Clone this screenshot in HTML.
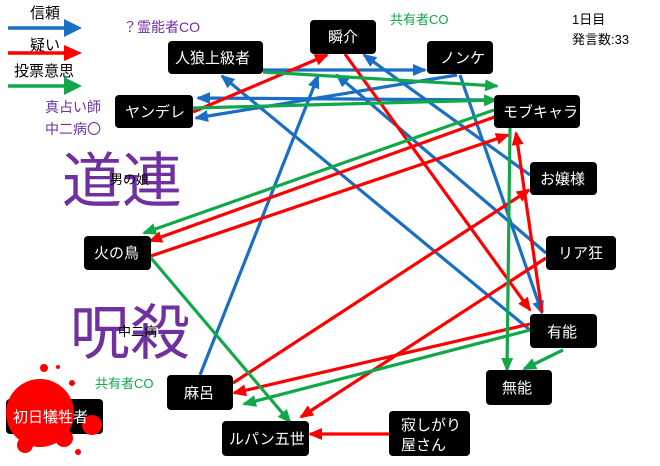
<!DOCTYPE html>
<html><head><meta charset="utf-8"><style>
body{margin:0;background:#fff;}
svg text{font-family:"Liberation Sans","Noto Sans CJK JP",sans-serif;}
</style></head><body>
<svg width="660" height="461" viewBox="0 0 660 461" xmlns="http://www.w3.org/2000/svg">
<defs>
<marker id="b" viewBox="0 0 14 12" refX="12" refY="6" markerWidth="14" markerHeight="12" orient="auto" markerUnits="userSpaceOnUse"><path d="M0,0 L14,6 L0,12z" fill="#1a6fc4"/></marker>
<marker id="r" viewBox="0 0 14 12" refX="12" refY="6" markerWidth="14" markerHeight="12" orient="auto" markerUnits="userSpaceOnUse"><path d="M0,0 L14,6 L0,12z" fill="#f00"/></marker>
<marker id="g" viewBox="0 0 14 12" refX="12" refY="6" markerWidth="14" markerHeight="12" orient="auto" markerUnits="userSpaceOnUse"><path d="M0,0 L14,6 L0,12z" fill="#12a84a"/></marker>
</defs>
<!-- legend -->
<text x="30" y="18" font-size="15">信頼</text>
<line x1="8" y1="28" x2="64" y2="28" stroke="#1a6fc4" stroke-width="3.5"/><path d="M64,19 L82,28 L64,37z" fill="#1a6fc4"/>
<text x="30" y="50" font-size="15">疑い</text>
<line x1="8" y1="53" x2="64" y2="53" stroke="#f00" stroke-width="3.5"/><path d="M64,45 L82,53 L64,61z" fill="#f00"/>
<text x="14" y="76" font-size="15">投票意思</text>
<line x1="8" y1="86" x2="64" y2="86" stroke="#12a84a" stroke-width="3.5"/><path d="M64,77 L82,86 L64,95z" fill="#12a84a"/>
<text x="123" y="32" font-size="14" fill="#7030a0">？霊能者CO</text>
<text x="45" y="112" font-size="14" fill="#7030a0">真占い師</text>
<text x="45" y="134" font-size="14" fill="#7030a0">中二病〇</text>
<text x="390" y="24" font-size="13" fill="#12a84a">共有者CO</text>
<text x="572" y="24" font-size="13">1日目</text>
<text x="572" y="44" font-size="13">発言数:33</text>
<text x="62" y="202" font-size="60" fill="#7030a0">道連</text>
<text x="70" y="354" font-size="60" fill="#7030a0">呪殺</text>
<text x="110" y="184" font-size="13">男の娘</text>
<text x="118" y="336" font-size="13">中二病</text>
<text x="95" y="388" font-size="13" fill="#12a84a">共有者CO</text>
<g stroke-width="3.2" fill="none">
<!-- blue -->
<line x1="263" y1="70" x2="425" y2="70" stroke="#1a6fc4" marker-end="url(#b)"/>
<line x1="457" y1="75" x2="196" y2="118" stroke="#1a6fc4" marker-end="url(#b)"/>
<line x1="494" y1="100" x2="198" y2="98" stroke="#1a6fc4" marker-end="url(#b)"/>
<line x1="530" y1="330" x2="222" y2="76" stroke="#1a6fc4" marker-end="url(#b)"/>
<line x1="200" y1="375" x2="318" y2="76" stroke="#1a6fc4" marker-end="url(#b)"/>
<line x1="530" y1="175" x2="364" y2="55" stroke="#1a6fc4" marker-end="url(#b)"/>
<line x1="546" y1="253" x2="337" y2="75" stroke="#1a6fc4" marker-end="url(#b)"/>
<line x1="460" y1="75" x2="542" y2="313" stroke="#1a6fc4" marker-end="url(#b)"/>
<!-- red -->
<line x1="193" y1="112" x2="327" y2="55" stroke="#f00" marker-end="url(#r)"/>
<line x1="345" y1="54" x2="530" y2="310" stroke="#f00" marker-end="url(#r)"/>
<line x1="500" y1="115" x2="150" y2="241" stroke="#f00" marker-end="url(#r)"/>
<line x1="151" y1="256" x2="508" y2="135" stroke="#f00" marker-end="url(#r)"/>
<line x1="233" y1="383" x2="529" y2="190" stroke="#f00" marker-end="url(#r)"/>
<line x1="546" y1="258" x2="301" y2="417" stroke="#f00" marker-end="url(#r)"/>
<line x1="530" y1="324" x2="234" y2="393" stroke="#f00" marker-end="url(#r)"/>
<line x1="389" y1="434" x2="310" y2="434" stroke="#f00" marker-end="url(#r)"/>
<line x1="542" y1="312" x2="516" y2="133" stroke="#f00" marker-end="url(#r)"/>
<!-- green -->
<line x1="263" y1="72" x2="497" y2="86" stroke="#12a84a" marker-end="url(#g)"/>
<line x1="193" y1="108" x2="496" y2="100" stroke="#12a84a" marker-end="url(#g)"/>
<line x1="494" y1="110" x2="144" y2="233" stroke="#12a84a" marker-end="url(#g)"/>
<line x1="151" y1="258" x2="290" y2="422" stroke="#12a84a" marker-end="url(#g)"/>
<line x1="510" y1="128" x2="507" y2="370" stroke="#12a84a" marker-end="url(#g)"/>
<line x1="563" y1="350" x2="524" y2="369" stroke="#12a84a" marker-end="url(#g)"/>
<line x1="530" y1="330" x2="244" y2="404" stroke="#12a84a" marker-end="url(#g)"/>
</g>
<!-- nodes -->
<g fill="#000">
<rect x="168" y="41" width="95" height="33" rx="4"/>
<rect x="310" y="20" width="66" height="34" rx="4"/>
<rect x="427" y="41" width="66" height="33" rx="4"/>
<rect x="115" y="95" width="78" height="33" rx="4"/>
<rect x="494" y="95" width="86" height="33" rx="4"/>
<rect x="530" y="162" width="67" height="33" rx="4"/>
<rect x="84" y="236" width="67" height="34" rx="4"/>
<rect x="546" y="236" width="70" height="34" rx="4"/>
<rect x="530" y="314" width="67" height="34" rx="4"/>
<rect x="486" y="370" width="66" height="35" rx="4"/>
<rect x="167" y="375" width="66" height="35" rx="4"/>
<rect x="222" y="421" width="87" height="35" rx="4"/>
<rect x="389" y="411" width="81" height="45" rx="4"/>
<rect x="6" y="399" width="97" height="35" rx="4"/>
</g>
<g fill="#f00">
<circle cx="40" cy="413" r="34"/><circle cx="92" cy="425" r="10"/><circle cx="44" cy="368" r="4"/><circle cx="72" cy="383" r="3"/><circle cx="58" cy="367" r="2"/><circle cx="78" cy="452" r="3"/><circle cx="25" cy="445" r="8"/><circle cx="64" cy="438" r="9"/>
</g>
<g fill="#fff" font-size="15">
<text x="175" y="63">人狼上級者</text>
<text x="328" y="42">瞬介</text>
<text x="440" y="63">ノンケ</text>
<text x="125" y="117">ヤンデレ</text>
<text x="503" y="117">モブキャラ</text>
<text x="540" y="184">お嬢様</text>
<text x="94" y="258">火の鳥</text>
<text x="558" y="258">リア狂</text>
<text x="547" y="337">有能</text>
<text x="502" y="393">無能</text>
<text x="184" y="398">麻呂</text>
<text x="229" y="444">ルパン五世</text>
<text x="401" y="430">寂しがり</text>
<text x="401" y="450">屋さん</text>
<text x="13" y="422">初日犠牲者</text>
</g>
</svg>
</body></html>
